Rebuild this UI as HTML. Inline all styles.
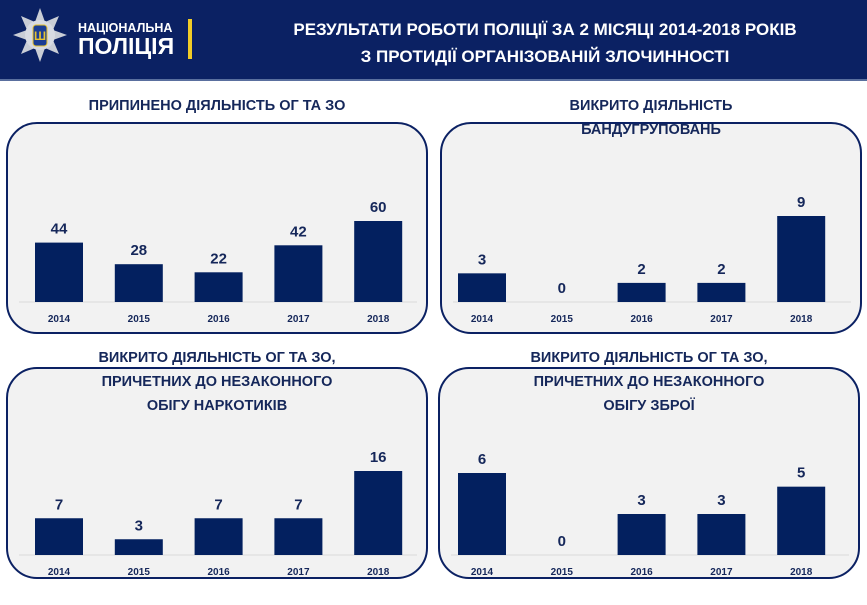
<!DOCTYPE html>
<html><head><meta charset="utf-8"><style>
body{margin:0;width:867px;height:600px;overflow:hidden;background:#fff;font-family:"Liberation Sans",sans-serif}
</style></head><body>
<svg id="s" width="867" height="600" xmlns="http://www.w3.org/2000/svg" style="font-family:'Liberation Sans',sans-serif">
<rect x="0" y="0" width="867" height="79" fill="#0b2163"/>
<rect x="0" y="79" width="867" height="2" fill="#5a6f9e"/>
<g>
<polygon points="40,8 45,22 59,16 53,30 67,35 53,40 59,54 45,48 40,62 35,48 21,54 27,40 13,35 27,30 21,16 35,22" fill="#c9cdd6"/>
<circle cx="40" cy="35" r="15" fill="#d8dbe2"/>
<rect x="33" y="25" width="14" height="21" rx="3" fill="#1b3d94" stroke="#e7c330" stroke-width="1"/>
<text x="40" y="40" font-size="12" fill="#e7c330" text-anchor="middle" font-weight="bold">Ш</text>
<text x="78" y="32" font-size="12.5" font-weight="bold" fill="#fff">НАЦІОНАЛЬНА</text>
<text x="78" y="54" font-size="23" font-weight="bold" fill="#fff">ПОЛІЦІЯ</text>
<rect x="188" y="19" width="4" height="40" fill="#f1cc27"/>
</g>
<text x="545" y="35" font-size="17" font-weight="bold" fill="#fff" text-anchor="middle">РЕЗУЛЬТАТИ РОБОТИ ПОЛІЦІЇ ЗА 2 МІСЯЦІ 2014-2018 РОКІВ</text>
<text x="545" y="62" font-size="17" font-weight="bold" fill="#fff" text-anchor="middle">З ПРОТИДІЇ ОРГАНІЗОВАНІЙ ЗЛОЧИННОСТІ</text>
</svg>
<script>
const years=["2014","2015","2016","2017","2018"];
const vals1=[44,28,22,42,60];
const vals2=[3,0,2,2,9];
const vals3=[7,3,7,7,16];
const vals4=[6,0,3,3,5];
const titles=[["ПРИПИНЕНО  ДІЯЛЬНІСТЬ ОГ ТА ЗО"],["ВИКРИТО ДІЯЛЬНІСТЬ","БАНДУГРУПОВАНЬ"],["ВИКРИТО ДІЯЛЬНІСТЬ ОГ ТА ЗО,","ПРИЧЕТНИХ ДО НЕЗАКОННОГО","ОБІГУ НАРКОТИКІВ"],["ВИКРИТО ДІЯЛЬНІСТЬ ОГ ТА ЗО,","ПРИЧЕТНИХ ДО НЕЗАКОННОГО","ОБІГУ ЗБРОЇ"]];
const NS="http://www.w3.org/2000/svg",svg=document.getElementById('s');
function mk(t,a,p){const e=document.createElementNS(NS,t);for(const k in a)e.setAttribute(k,a[k]);(p||svg).appendChild(e);return e;}
const panels=[
 {x:7,y:123,base:302,ty:[110],data:vals1,mh:81,off:28,name:'chart-stopped-groups'},
 {x:441,y:123,base:302,ty:[110,134],data:vals2,mh:86,off:17,name:'chart-gangs'},
 {x:7,y:368,base:555,ty:[362,386,410],data:vals3,mh:84,off:28,name:'chart-drugs'},
 {x:439,y:368,base:555,ty:[362,386,410],data:vals4,mh:82,off:19,name:'chart-weapons'}];
panels.forEach((p,i)=>{
 const g=mk('g',{});
 
 
 const box=mk('rect',{x:p.x,y:p.y,width:420,height:210,rx:30,fill:'#f2f2f2',stroke:'#0b2163','stroke-width':2},g);
 
 
 const cx=p.x+210;
 titles[i].forEach((t,j)=>{const e=mk('text',{x:cx,y:p.ty[j],'font-size':14.5,'font-weight':'bold',fill:'#15275a','text-anchor':'middle'},g);e.textContent=t;
  
  });
 const ax=mk('line',{x1:p.x+12,x2:p.x+410,y1:p.base,y2:p.base,stroke:'#d9d9d9','stroke-width':1},g);
 
 
 const max=Math.max(...p.data),sc=p.mh/max;
 const x=k=>p.x+p.off+k*79.8;
 p.data.forEach((v,k)=>{
  const h=v*sc;
  const b=mk('rect',{x:x(k),y:p.base-h,width:48,height:h,fill:'#03205f'},g);
  
  
  const l=mk('text',{x:x(k)+24,y:p.base-h-9,'font-size':15,'font-weight':'bold',fill:'#15275a','text-anchor':'middle'},g);l.textContent=v;
  
  
  const yl=mk('text',{x:x(k)+24,y:p.base+20,'font-size':10,'font-weight':'bold',fill:'#15275a','text-anchor':'middle'},g);yl.textContent=years[k];
  
  
 });
});
</script>
</body></html>
